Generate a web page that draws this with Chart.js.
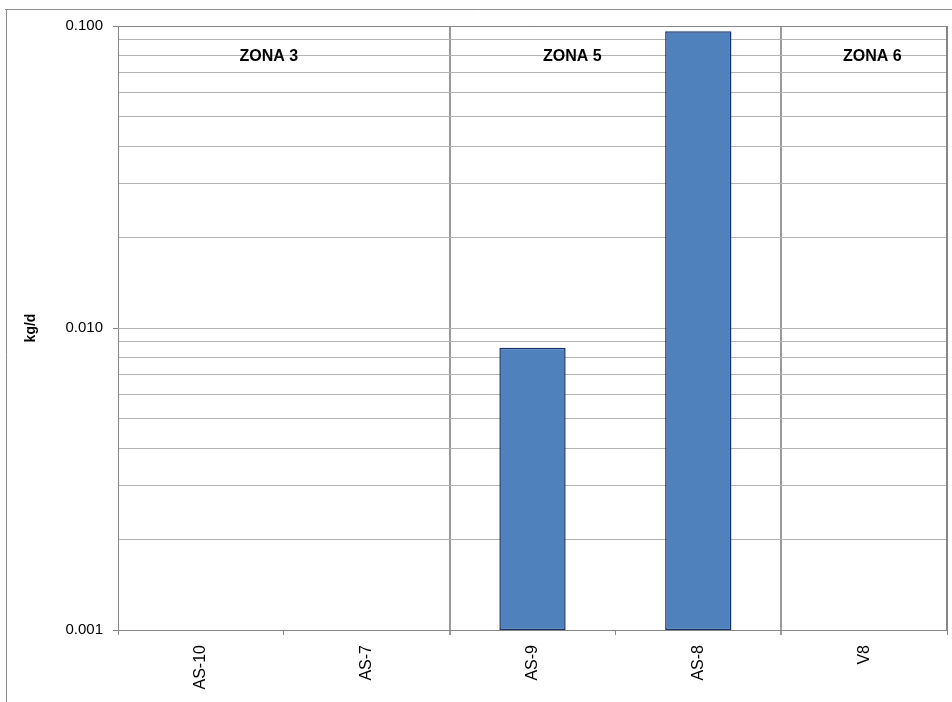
<!DOCTYPE html>
<html>
<head>
<meta charset="utf-8">
<script src="https://cdn.jsdelivr.net/npm/chart.js@4/dist/chart.umd.min.js"></script>
<style>
  html, body { margin: 0; padding: 0; background: #ffffff; }
  #wrap { width: 952px; height: 702px; }
</style>
</head>
<body>
<div id="wrap"><canvas id="chart" width="952" height="702"></canvas></div>
<script>
// Sampling points along the x axis
const categories = ['AS-10', 'AS-7', 'AS-9', 'AS-8', 'V8'];
// Daily load per point, kg/d (no bar where nothing was measured)
const loadKgPerDay = [null, null, 0.0086, 0.096, null];
// Log axis: gridline values and the ones that carry a label
const yTickValues = [
  0.001, 0.002, 0.003, 0.004, 0.005, 0.006, 0.007, 0.008, 0.009,
  0.01, 0.02, 0.03, 0.04, 0.05, 0.06, 0.07, 0.08, 0.09, 0.1
];
const yLabelledTicks = [0.001, 0.01, 0.1];
// Zones and the category boundary where each zone after the first begins
const zoneNames = ['ZONA 3', 'ZONA 5', 'ZONA 6'];
const zoneStartBoundaries = [2, 4];
// Where each zone heading sits, in category units, and at which axis value
const zoneLabelAnchors = [0.41, 2.24, 4.05];
const zoneLabelValue = 0.079;

const FONT = "'Liberation Sans', Arial, sans-serif";
const AXIS_GREY = '#868686';
const GRID_GREY = '#b4b4b4';
const ZONE_GREY = '#9a9a9a';

const isLabelled = v => yLabelledTicks.some(t => Math.abs(t - v) < 1e-9);
const isZoneEdge = ctx => ctx.index !== undefined && zoneStartBoundaries.includes(ctx.index);

// Thin frame around the drawing area and the plot box
const framePlugin = {
  id: 'frame',
  beforeDraw(chart) {
    const ctx = chart.ctx;
    ctx.save();
    ctx.strokeStyle = '#8c8c8c';
    ctx.lineWidth = 1;
    ctx.beginPath();
    ctx.moveTo(5, 9.5);
    ctx.lineTo(chart.width, 9.5);
    ctx.moveTo(6.5, 9);
    ctx.lineTo(6.5, chart.height);
    ctx.stroke();
    ctx.restore();
  },
  beforeDatasetsDraw(chart) {
    const {ctx, chartArea: a} = chart;
    ctx.save();
    ctx.strokeStyle = AXIS_GREY;
    ctx.lineWidth = 1;
    ctx.beginPath();
    ctx.moveTo(a.left, a.top + 0.5);
    ctx.lineTo(a.right, a.top + 0.5);
    ctx.moveTo(a.right - 0.5, a.top);
    ctx.lineTo(a.right - 0.5, a.bottom);
    ctx.stroke();
    ctx.restore();
  }
};

// Zone headings across the top of the plot
const zoneLabelPlugin = {
  id: 'zoneLabels',
  afterDatasetsDraw(chart) {
    const {ctx, scales: {x, y}} = chart;
    ctx.save();
    ctx.font = 'bold 16px ' + FONT;
    ctx.fillStyle = '#000000';
    ctx.textAlign = 'center';
    ctx.textBaseline = 'middle';
    const yPix = y.getPixelForValue(zoneLabelValue);
    zoneNames.forEach((name, i) => {
      ctx.fillText(name, x.getPixelForValue(zoneLabelAnchors[i]), yPix);
    });
    ctx.restore();
  }
};

new Chart(document.getElementById('chart'), {
  type: 'bar',
  data: {
    labels: categories,
    datasets: [{
      label: 'kg/d',
      data: loadKgPerDay,
      backgroundColor: '#4f81bd',
      borderColor: '#16326a',
      borderWidth: 1.5,
      borderSkipped: false,
      barPercentage: 0.4,
      categoryPercentage: 1.0
    }]
  },
  options: {
    responsive: false,
    animation: false,
    devicePixelRatio: 1,
    layout: { padding: { top: 26, right: 5, bottom: 0, left: 6 } },
    plugins: {
      legend: { display: false },
      tooltip: { enabled: false }
    },
    scales: {
      x: {
        type: 'category',
        offset: true,
        afterFit(scale) { scale.height = 72; },
        border: { display: true, color: AXIS_GREY, width: 1 },
        grid: {
          offset: true,
          drawTicks: true,
          tickLength: 5,
          color(ctx) {
            if (ctx.index === undefined) return AXIS_GREY;
            return isZoneEdge(ctx) ? ZONE_GREY : 'rgba(0,0,0,0)';
          },
          lineWidth: ctx => (isZoneEdge(ctx) ? 2 : 1),
          tickColor: ctx => (isZoneEdge(ctx) ? ZONE_GREY : AXIS_GREY),
          tickWidth: ctx => (isZoneEdge(ctx) ? 2 : 1)
        },
        ticks: {
          autoSkip: false,
          maxRotation: 90,
          minRotation: 90,
          padding: 10,
          color: '#000000',
          font: { family: FONT, size: 16 }
        }
      },
      y: {
        type: 'logarithmic',
        min: 0.001,
        max: 0.1,
        afterFit(scale) { scale.width = 112; },
        afterBuildTicks(scale) {
          scale.ticks = yTickValues.map(v => ({ value: v }));
        },
        border: { display: true, color: AXIS_GREY, width: 1 },
        title: {
          display: true,
          text: 'kg/d',
          color: '#000000',
          font: { family: FONT, size: 14, weight: 'bold' },
          padding: { top: 17, bottom: 0 }
        },
        grid: {
          drawTicks: true,
          tickLength: 5,
          color: GRID_GREY,
          lineWidth: 1,
          tickColor: ctx => (ctx.tick && isLabelled(ctx.tick.value) ? AXIS_GREY : 'rgba(0,0,0,0)')
        },
        ticks: {
          autoSkip: false,
          padding: 10,
          color: '#000000',
          font: { family: FONT, size: 15 },
          callback(value) {
            return isLabelled(value) ? Number(value).toFixed(3) : '';
          }
        }
      }
    }
  },
  plugins: [framePlugin, zoneLabelPlugin]
});
</script>
</body>
</html>
